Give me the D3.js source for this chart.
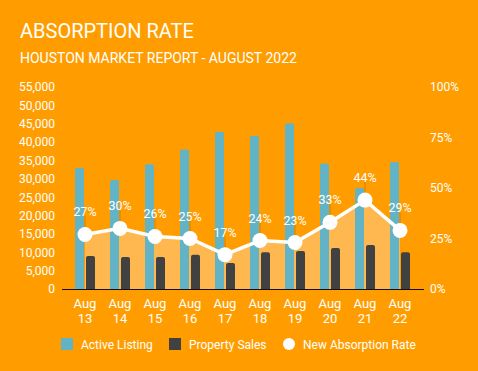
<!DOCTYPE html>
<html lang="en">
<head>
    <meta charset="UTF-8">
    <title>Absorption Rate</title>
    <script src="https://d3js.org/d3.v7.min.js"></script>
    <style>
        body {
            margin: 0;
            background: #ff9d00;
            font-family: Roboto, Arial, sans-serif;
        }
        svg text {
            fill: #fff;
        }
    </style>
</head>
<body>
    <svg id="chart"></svg>

    <script>
        // chart data
        const categories = ['Aug 13', 'Aug 14', 'Aug 15', 'Aug 16', 'Aug 17', 'Aug 18', 'Aug 19', 'Aug 20', 'Aug 21', 'Aug 22'];
        const activeListing = [33000, 29700, 34000, 38000, 42800, 41700, 45100, 34200, 27500, 34600];
        const propertySales = [9000, 8700, 8700, 9350, 7100, 10000, 10350, 11150, 12000, 10000];
        const absorptionRate = [0.27, 0.30, 0.26, 0.25, 0.17, 0.24, 0.23, 0.33, 0.44, 0.29];
        const leftTicks = [0, 5000, 10000, 15000, 20000, 25000, 30000, 35000, 40000, 45000, 50000, 55000];
        const rightTicks = [0, 0.25, 0.5, 0.75, 1];

        const width = 478;
        const height = 371;

        const svg = d3.select('#chart')
            .attr('width', width)
            .attr('height', height)
            .style('display', 'block');

        svg.append('rect')
            .attr('width', width)
            .attr('height', height)
            .attr('fill', '#ff9d00');

        // titles
        svg.append('text')
            .attr('x', 20)
            .attr('y', 38)
            .attr('font-size', '20px')
            .text('ABSORPTION RATE');

        svg.append('text')
            .attr('x', 20)
            .attr('y', 63)
            .attr('font-size', '14px')
            .text('HOUSTON MARKET REPORT - AUGUST 2022');

        const x = d3.scaleBand()
            .domain(categories)
            .range([67.5, 417.5]);

        const y = d3.scaleLinear()
            .domain([0, 55000])
            .range([289, 87]);

        const yRight = d3.scaleLinear()
            .domain([0, 1])
            .range([289, 87]);

        const cx = d => x(d) + x.bandwidth() / 2;

        // left axis
        const leftAxis = svg.append('g')
            .attr('transform', 'translate(55,0)')
            .call(d3.axisLeft(y).tickValues(leftTicks).tickFormat(d3.format(',')).tickSize(0).tickPadding(0));
        leftAxis.select('.domain').remove();
        leftAxis.selectAll('text')
            .attr('font-family', 'Roboto, Arial, sans-serif')
            .attr('font-size', '12px')
            .attr('fill', '#fff');

        // right axis
        const rightAxis = svg.append('g')
            .attr('transform', 'translate(430,0)')
            .call(d3.axisRight(yRight).tickValues(rightTicks).tickFormat(d3.format('.0%')).tickSize(0).tickPadding(0));
        rightAxis.select('.domain').remove();
        rightAxis.selectAll('text')
            .attr('font-family', 'Roboto, Arial, sans-serif')
            .attr('font-size', '12px')
            .attr('fill', '#fff');

        // area under the rate line
        const area = d3.area()
            .x((d, i) => cx(categories[i]))
            .y0(yRight(0))
            .y1(d => yRight(d));

        svg.append('path')
            .datum(absorptionRate)
            .attr('d', area)
            .attr('fill', '#ffb84f');

        // bars with rounded tops
        function topRounded(x0, y0, w, h, r) {
            return `M${x0},${y0 + h} V${y0 + r} Q${x0},${y0} ${x0 + r},${y0} H${x0 + w - r} Q${x0 + w},${y0} ${x0 + w},${y0 + r} V${y0 + h} Z`;
        }

        svg.append('g').selectAll('path')
            .data(activeListing)
            .join('path')
            .attr('d', (d, i) => topRounded(cx(categories[i]) - 10, y(d), 9, y(0) - y(d), 2))
            .attr('fill', '#63b3c7');

        svg.append('g').selectAll('path')
            .data(propertySales)
            .join('path')
            .attr('d', (d, i) => topRounded(cx(categories[i]) + 1, y(d), 9, y(0) - y(d), 2))
            .attr('fill', '#414141');

        // baseline
        svg.append('line')
            .attr('x1', 62)
            .attr('x2', 424)
            .attr('y1', 289.5)
            .attr('y2', 289.5)
            .attr('stroke', '#111')
            .attr('stroke-width', 1);

        // leader lines for labels
        svg.append('g').selectAll('line')
            .data(absorptionRate)
            .join('line')
            .attr('x1', (d, i) => cx(categories[i]))
            .attr('x2', (d, i) => cx(categories[i]))
            .attr('y1', d => yRight(d) - 18)
            .attr('y2', d => yRight(d) - 6)
            .attr('stroke', '#e08a00')
            .attr('stroke-width', 1.5);

        // rate line and markers
        const line = d3.line()
            .x((d, i) => cx(categories[i]))
            .y(d => yRight(d));

        svg.append('path')
            .datum(absorptionRate)
            .attr('d', line)
            .attr('fill', 'none')
            .attr('stroke', '#fff')
            .attr('stroke-width', 3.5);

        svg.append('g').selectAll('circle')
            .data(absorptionRate)
            .join('circle')
            .attr('cx', (d, i) => cx(categories[i]))
            .attr('cy', d => yRight(d))
            .attr('r', 7.5)
            .attr('fill', '#fff');

        svg.append('g').selectAll('text')
            .data(absorptionRate)
            .join('text')
            .attr('x', (d, i) => cx(categories[i]))
            .attr('y', d => yRight(d) - 18)
            .attr('text-anchor', 'middle')
            .attr('font-size', '12.5px')
            .text(d => d3.format('.0%')(d));

        // x labels on two lines
        const xLabels = svg.append('g').selectAll('text')
            .data(categories)
            .join('text')
            .attr('x', d => cx(d))
            .attr('y', 308)
            .attr('text-anchor', 'middle')
            .attr('font-size', '13px');
        xLabels.append('tspan')
            .attr('x', d => cx(d))
            .text(d => d.split(' ')[0]);
        xLabels.append('tspan')
            .attr('x', d => cx(d))
            .attr('dy', 15)
            .text(d => d.split(' ')[1]);

        // legend
        const legend = svg.append('g');
        legend.append('rect')
            .attr('x', 61).attr('y', 338).attr('width', 12).attr('height', 12)
            .attr('fill', '#63b3c7');
        legend.append('text')
            .attr('x', 81).attr('y', 348.5).attr('font-size', '12px')
            .text('Active Listing');
        legend.append('rect')
            .attr('x', 169).attr('y', 338).attr('width', 12).attr('height', 12)
            .attr('fill', '#414141');
        legend.append('text')
            .attr('x', 189).attr('y', 348.5).attr('font-size', '12px')
            .text('Property Sales');
        legend.append('circle')
            .attr('cx', 289).attr('cy', 344).attr('r', 6)
            .attr('fill', '#fff');
        legend.append('text')
            .attr('x', 303).attr('y', 348.5).attr('font-size', '12px')
            .text('New Absorption Rate');
    </script>
</body>
</html>
